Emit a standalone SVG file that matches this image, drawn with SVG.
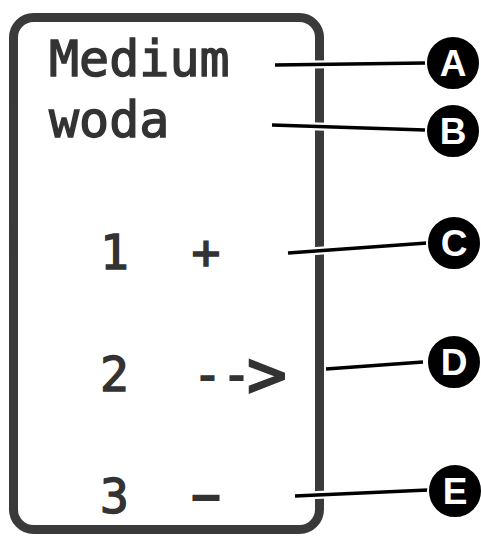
<svg xmlns="http://www.w3.org/2000/svg" width="481" height="536" viewBox="0 0 481 536">
<style>
.box{fill:#fff;stroke:#3a3a3a;stroke-width:9}
.t{font-family:"DejaVu Sans Mono",monospace;fill:#333;stroke:#333;stroke-width:1.4;font-size:48px}
.big{font-size:50px}
.halo{stroke:#fff;stroke-width:8;fill:none;stroke-linecap:butt}
.ln{stroke:#000;stroke-width:3.5;fill:none}
.cb{fill:#000;stroke:#fff;stroke-width:2}
.cl{font-family:"Liberation Sans",Arial,sans-serif;font-weight:bold;font-size:37px;fill:#fff;text-anchor:middle}
</style>
<rect width="481" height="536" fill="#fff"/>
<g id="panel">
<rect class="box" x="13.5" y="17.5" width="306" height="512" rx="20"/>
<text class="t big" x="49" y="76">Medium</text>
<text class="t big" x="49" y="137">woda</text>
<text class="t" x="100" y="269">1</text>
<text class="t" x="206" y="269" text-anchor="middle">+</text>
<text class="t" x="100" y="391">2</text>
<text class="t" x="193" y="391" style="stroke-width:1.8">--</text>
<text class="t" x="247" y="397" style="font-size:66px;stroke-width:2.2">&gt;</text>
<text class="t" x="206" y="513" text-anchor="middle" style="stroke-width:2.2">−</text>
<text class="t" x="100" y="513">3</text>
</g>
<g id="connectors">
<path class="halo" d="M275 65L425 63M272 125L425 130M288 253L427 243M325 369L423 362M295 496L428 490"/>
<path class="ln" d="M275 65L425 63M272 125L425 130M288 253L427 243M326 369L423 362M295 496L428 490"/>
</g>
<g id="A"><circle class="cb" cx="453" cy="63" r="27"/><text class="cl" x="453" y="76">A</text></g>
<g id="B"><circle class="cb" cx="453" cy="131" r="27"/><text class="cl" x="453" y="144">B</text></g>
<g id="C"><circle class="cb" cx="454" cy="243" r="27"/><text class="cl" x="454" y="256">C</text></g>
<g id="D"><circle class="cb" cx="454" cy="362" r="27"/><text class="cl" x="454" y="375">D</text></g>
<g id="E"><circle class="cb" cx="455" cy="491" r="27"/><text class="cl" x="455" y="504">E</text></g>
</svg>
